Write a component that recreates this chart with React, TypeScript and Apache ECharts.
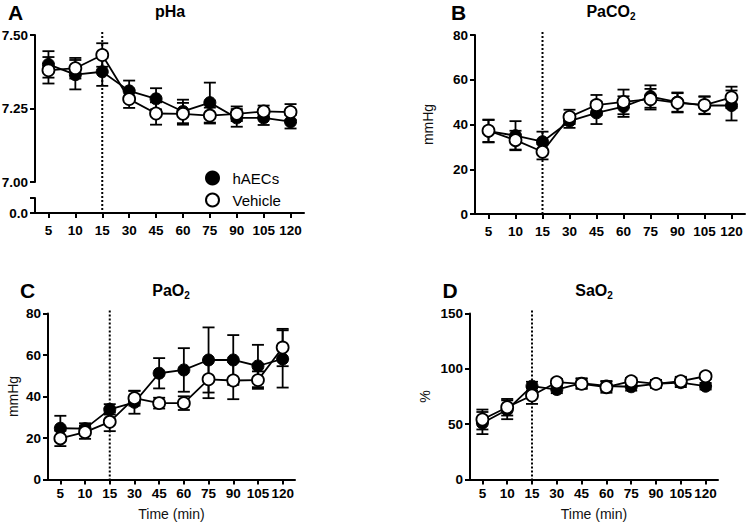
import { useEffect, useRef } from 'react';
import * as echarts from 'echarts';

// ---------- data ----------
const timePoints = ['5', '10', '15', '30', '45', '60', '75', '90', '105', '120'];
const treatmentStart = '15';

const pHaHAECs = [7.40, 7.365, 7.375, 7.31, 7.283, 7.24, 7.27, 7.218, 7.218, 7.205];
const pHaHAECsSem = [0.045, 0.05, 0.048, 0.035, 0.036, 0.04, 0.068, 0.03, 0.024, 0.023];
const pHaVehicle = [7.38, 7.387, 7.432, 7.282, 7.233, 7.232, 7.226, 7.232, 7.24, 7.238];
const pHaVehicleSem = [0.045, 0.035, 0.04, 0.03, 0.038, 0.037, 0.027, 0.025, 0.02, 0.027];

const paco2HAECs = [37, 35, 32.3, 41.5, 45.2, 48, 52.5, 50, 48.5, 48.5];
const paco2HAECsSem = [5, 6.5, 4.5, 3, 5, 4.6, 5, 4.3, 3.9, 6.7];
const paco2Vehicle = [37.2, 33, 27.8, 43.4, 48.7, 50.1, 51.3, 49.7, 48.7, 52.1];
const paco2VehicleSem = [5, 4.2, 3.4, 3.2, 4.5, 5.5, 4.6, 4.3, 3.9, 4.8];

const pao2HAECs = [24.7, 24.5, 33.8, 37.2, 51.2, 52.8, 57.6, 57.6, 54.7, 58.1];
const pao2HAECsSem = [6, 2.6, 2.5, 5.5, 7.3, 10.5, 15.7, 12, 10.2, 13.8];
const pao2Vehicle = [19.8, 22.8, 27.8, 39.2, 36.8, 36.8, 48.3, 47.7, 47.9, 63.6];
const pao2VehicleSem = [3.7, 3.2, 4.5, 3.6, 2.6, 3.3, 9.1, 9, 4.2, 9];

const sao2HAECs = [51, 63, 84.3, 81.3, 87, 84.5, 83.8, 86.5, 87.5, 84.3];
const sao2HAECsSem = [10, 8.5, 4, 3.3, 4.5, 4.5, 3.5, 3.5, 4, 3];
const sao2Vehicle = [54.2, 65.3, 75.9, 87.9, 86.4, 83.4, 88.8, 86.4, 88.8, 93.3];
const sao2VehicleSem = [9, 7.5, 7.6, 3, 4.5, 5, 3, 3.5, 4, 2.5];

const pHaTicks = [7.0, 7.25, 7.5];

// ---------- helpers ----------
const FONT = "'Liberation Sans', Arial, Helvetica, sans-serif";
const BLACK = '#000';

function errRender(params: any, api: any) {
  const i = api.value(0);
  const lo = api.value(1);
  const hi = api.value(2);
  const top = api.coord([i, hi]);
  const bot = api.coord([i, lo]);
  const w = 6;
  const style = { stroke: BLACK, lineWidth: 1.8 };
  return {
    type: 'group',
    children: [
      { type: 'line', shape: { x1: top[0], y1: top[1], x2: bot[0], y2: bot[1] }, style },
      { type: 'line', shape: { x1: top[0] - w, y1: top[1], x2: top[0] + w, y2: top[1] }, style },
      { type: 'line', shape: { x1: bot[0] - w, y1: bot[1], x2: bot[0] + w, y2: bot[1] }, style },
    ],
  };
}

function vlineRender(extra: number) {
  return (params: any, api: any) => {
    const p = api.coord([api.value(0), api.value(1)]);
    const cs = params.coordSys;
    return {
      type: 'line',
      shape: { x1: p[0], y1: cs.y - 3, x2: p[0], y2: cs.y + cs.height + extra },
      style: { stroke: BLACK, lineWidth: 2, lineDash: [2, 2] },
    };
  };
}

function panelSeries(
  g: number,
  hMean: number[],
  hSem: number[],
  vMean: number[],
  vSem: number[],
  yBase: number,
  vExtra: number
) {
  const idx15 = timePoints.indexOf(treatmentStart);
  return [
    {
      type: 'custom',
      xAxisIndex: g,
      yAxisIndex: g,
      renderItem: vlineRender(vExtra),
      data: [[idx15, yBase]],
      encode: { x: 0, y: 1 },
      clip: false,
      silent: true,
      z: 1,
    },
    {
      type: 'custom',
      xAxisIndex: g,
      yAxisIndex: g,
      renderItem: errRender,
      data: hMean.map((m, i) => [i, m - hSem[i], m + hSem[i]]),
      encode: { x: 0, y: [1, 2] },
      clip: false,
      silent: true,
      z: 2,
    },
    {
      type: 'custom',
      xAxisIndex: g,
      yAxisIndex: g,
      renderItem: errRender,
      data: vMean.map((m, i) => [i, m - vSem[i], m + vSem[i]]),
      encode: { x: 0, y: [1, 2] },
      clip: false,
      silent: true,
      z: 2,
    },
    {
      type: 'line',
      name: 'hAECs',
      xAxisIndex: g,
      yAxisIndex: g,
      data: hMean,
      symbol: 'circle',
      symbolSize: 12,
      showAllSymbol: true,
      lineStyle: { color: BLACK, width: 1.8 },
      itemStyle: { color: BLACK, borderColor: BLACK, borderWidth: 1 },
      silent: true,
      z: 3,
    },
    {
      type: 'line',
      name: 'Vehicle',
      xAxisIndex: g,
      yAxisIndex: g,
      data: vMean,
      symbol: 'circle',
      symbolSize: 12,
      showAllSymbol: true,
      lineStyle: { color: BLACK, width: 1.8 },
      itemStyle: { color: '#fff', borderColor: BLACK, borderWidth: 1.8 },
      silent: true,
      z: 4,
    },
  ];
}

const axisLine = { show: true, onZero: false, lineStyle: { color: BLACK, width: 2 } };
const axisTick = { show: true, length: 5, lineStyle: { color: BLACK, width: 2 } };
const tickLabel = { color: BLACK, fontWeight: 'bold', fontSize: 13.5, fontFamily: FONT };
const nameStyle = { color: '#111', fontSize: 14, fontFamily: FONT, fontWeight: 'normal' };

function xAxis(g: number, show: boolean, margin: number, name?: string) {
  return {
    type: 'category',
    gridIndex: g,
    data: timePoints,
    boundaryGap: true,
    show: true,
    axisLine: show ? axisLine : { show: false },
    axisTick: show ? { ...axisTick, alignWithLabel: true } : { show: false },
    axisLabel: show ? { ...tickLabel, margin, interval: 0 } : { show: false },
    splitLine: { show: false },
    name: name || '',
    nameLocation: 'middle',
    nameGap: 27,
    nameTextStyle: nameStyle,
  };
}

function yAxis(
  g: number,
  min: number,
  max: number,
  interval: number,
  fmt: (v: number) => string,
  name?: string,
  nameGap?: number
) {
  return {
    type: 'value',
    gridIndex: g,
    min,
    max,
    interval,
    axisLine,
    axisTick,
    splitLine: { show: false },
    axisLabel: { ...tickLabel, margin: 7, formatter: fmt },
    name: name || '',
    nameLocation: 'middle',
    nameGap: nameGap || 30,
    nameTextStyle: nameStyle,
  };
}

function titleText(x: number, y: number, text: string) {
  return {
    type: 'text',
    x,
    y,
    style: {
      text,
      align: 'center',
      verticalAlign: 'middle',
      fill: BLACK,
      fontSize: 16,
      fontWeight: 'bold',
      fontFamily: FONT,
      rich: {
        sub: {
          fontSize: 10,
          fontWeight: 'bold',
          fontFamily: FONT,
          fill: BLACK,
          padding: [11, 0, 0, 0],
        },
      },
    },
  };
}

function letterText(x: number, y: number, text: string) {
  return {
    type: 'text',
    x,
    y,
    style: {
      text,
      align: 'center',
      verticalAlign: 'middle',
      fill: BLACK,
      fontSize: 21,
      fontWeight: 'bold',
      fontFamily: FONT,
    },
  };
}

export default function App() {
  const ref = useRef<HTMLDivElement>(null);

  useEffect(() => {
    if (!ref.current) return;
    const chart = echarts.init(ref.current, undefined, { renderer: 'svg' });
    const gridBase = { containLabel: false, outerBoundsMode: 'none' };
    const option: any = {
      animation: false,
      backgroundColor: '#fff',
      textStyle: { fontFamily: FONT },
      grid: [
        { ...gridBase, left: 35, top: 35, width: 269, height: 147 },
        { ...gridBase, left: 35, top: 198, width: 269, height: 15 },
        { ...gridBase, left: 475, top: 35, width: 270, height: 179 },
        { ...gridBase, left: 48, top: 313.5, width: 247, height: 166 },
        { ...gridBase, left: 470, top: 313.5, width: 248, height: 166 },
      ],
      xAxis: [
        xAxis(0, false, 10),
        xAxis(1, true, 10),
        xAxis(2, true, 10),
        xAxis(3, true, 7, 'Time (min)'),
        xAxis(4, true, 7, 'Time (min)'),
      ],
      yAxis: [
        yAxis(0, pHaTicks[0], pHaTicks[pHaTicks.length - 1], pHaTicks[1] - pHaTicks[0], (v) => v.toFixed(2)),
        yAxis(1, 0, 1, 1, (v) => (v === 0 ? '0.0' : '')),
        yAxis(2, 0, 80, 20, (v) => String(v), 'mmHg', 40),
        yAxis(3, 0, 80, 20, (v) => String(v), 'mmHg', 28),
        yAxis(4, 0, 150, 50, (v) => String(v), '%', 38),
      ],
      legend: {
        data: [
          { name: 'hAECs', icon: 'circle' },
          { name: 'Vehicle', icon: 'circle' },
        ],
        orient: 'vertical',
        left: 205,
        top: 170.5,
        padding: 0,
        itemWidth: 30,
        itemHeight: 13,
        itemGap: 7,
        selectedMode: false,
        textStyle: { fontSize: 15, fontFamily: FONT, color: BLACK, lineHeight: 15 },
      },
      graphic: [
        letterText(15.5, 12.5, 'A'),
        letterText(458.5, 12.5, 'B'),
        letterText(27.5, 290, 'C'),
        letterText(450, 290, 'D'),
        titleText(170, 11, 'pHa'),
        titleText(611, 11, 'PaCO{sub|2}'),
        titleText(171, 290, 'PaO{sub|2}'),
        titleText(594, 290, 'SaO{sub|2}'),
      ],
      series: [
        ...panelSeries(0, pHaHAECs, pHaHAECsSem, pHaVehicle, pHaVehicleSem, 7.0, 31),
        ...panelSeries(2, paco2HAECs, paco2HAECsSem, paco2Vehicle, paco2VehicleSem, 0, 0),
        ...panelSeries(3, pao2HAECs, pao2HAECsSem, pao2Vehicle, pao2VehicleSem, 0, 0),
        ...panelSeries(4, sao2HAECs, sao2HAECsSem, sao2Vehicle, sao2VehicleSem, 0, 0),
      ],
    };
    chart.setOption(option);
    return () => {
      chart.dispose();
    };
  }, []);

  return (
    <div
      ref={ref}
      style={{ position: 'fixed', left: 0, top: 0, width: 750, height: 523, background: '#fff' }}
    />
  );
}
